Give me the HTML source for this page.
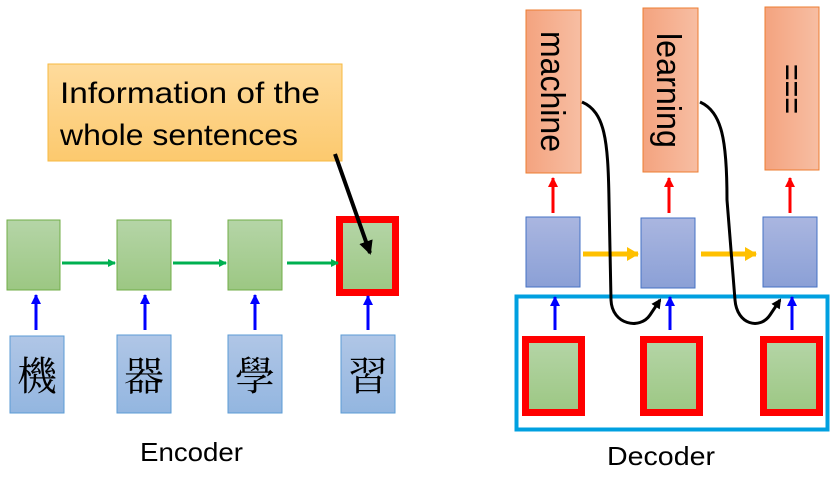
<!DOCTYPE html>
<html><head><meta charset="utf-8"><style>html,body{margin:0;padding:0;background:#fff}svg{display:block}</style></head>
<body>
<svg width="834" height="483" viewBox="0 0 834 483" xmlns="http://www.w3.org/2000/svg" font-family="Liberation Sans, sans-serif">
<defs>
<linearGradient id="g" x1="0" y1="0" x2="0" y2="1"><stop offset="0" stop-color="#b5d5a7"/><stop offset="1" stop-color="#9cc783"/></linearGradient>
<linearGradient id="b" x1="0" y1="0" x2="0" y2="1"><stop offset="0" stop-color="#b0c6e6"/><stop offset="1" stop-color="#93b6e0"/></linearGradient>
<linearGradient id="p" x1="0" y1="0" x2="0" y2="1"><stop offset="0" stop-color="#aab6e0"/><stop offset="1" stop-color="#8ba0d6"/></linearGradient>
<linearGradient id="o" x1="0" y1="0" x2="1" y2="0"><stop offset="0" stop-color="#f4a37f"/><stop offset="1" stop-color="#f7bea3"/></linearGradient>
<linearGradient id="y" x1="0" y1="0" x2="0" y2="1"><stop offset="0" stop-color="#fedb9c"/><stop offset="1" stop-color="#fcc96e"/></linearGradient>
<marker id="ag" markerWidth="8" markerHeight="8" refX="7" refY="4" orient="auto" markerUnits="userSpaceOnUse"><path d="M0,0 L8,4 L0,8z" fill="#00b050"/></marker>
<marker id="ab" markerWidth="10" markerHeight="10" refX="9" refY="5" orient="auto" markerUnits="userSpaceOnUse"><path d="M0,0 L10,5 L0,10z" fill="#0000ff"/></marker>
<marker id="ar" markerWidth="10" markerHeight="10" refX="9" refY="5" orient="auto" markerUnits="userSpaceOnUse"><path d="M0,0 L10,5 L0,10z" fill="#ff0000"/></marker>
<marker id="ay" markerWidth="12" markerHeight="14" refX="11" refY="7" orient="auto" markerUnits="userSpaceOnUse"><path d="M0,0 L12,7 L0,14z" fill="#ffc000"/></marker>
<marker id="ak" markerWidth="14" markerHeight="14" refX="12" refY="7" orient="auto" markerUnits="userSpaceOnUse"><path d="M0,0 L14,7 L0,14z" fill="#000"/></marker>
<marker id="ak2" markerWidth="10" markerHeight="10" refX="8" refY="5" orient="auto" markerUnits="userSpaceOnUse"><path d="M0,0 L10,5 L0,10z" fill="#000"/></marker>
</defs>
<!-- Encoder -->
<rect x="7" y="220" width="53" height="70" fill="url(#g)" stroke="#70ad47"/>
<rect x="117" y="220" width="54" height="70" fill="url(#g)" stroke="#70ad47"/>
<rect x="228" y="220" width="54" height="70" fill="url(#g)" stroke="#70ad47"/>
<rect x="339.5" y="219.5" width="56" height="73" fill="url(#g)" stroke="#ff0000" stroke-width="7"/>
<g stroke="#00b050" stroke-width="3" marker-end="url(#ag)">
<line x1="62" y1="263" x2="115" y2="263"/><line x1="173" y1="263" x2="226" y2="263"/><line x1="287" y1="263" x2="338" y2="263"/></g>
<g stroke="#0000ff" stroke-width="3" marker-end="url(#ab)">
<line x1="36" y1="330" x2="36" y2="295"/><line x1="145" y1="330" x2="145" y2="295"/><line x1="255" y1="330" x2="255" y2="295"/><line x1="368" y1="330" x2="368" y2="296"/></g>
<g fill="url(#b)" stroke="#5b9bd5">
<rect x="10" y="336" width="54" height="77"/><rect x="117" y="335" width="54" height="78"/><rect x="228" y="335" width="54" height="78"/><rect x="341" y="335" width="54" height="78"/></g>
<g font-family="Liberation Serif, Noto Serif CJK SC, serif" font-size="40" text-anchor="middle" fill="#000">
<text x="37" y="390">機</text><text x="144" y="390">器</text><text x="255" y="390">學</text><text x="368" y="390">習</text></g>
<rect x="48" y="64" width="294" height="97" fill="url(#y)" stroke="#f7b940"/>
<g font-size="30" fill="#000"><text x="60" y="103" textLength="260" lengthAdjust="spacingAndGlyphs">Information of the</text><text x="60" y="145" textLength="238" lengthAdjust="spacingAndGlyphs">whole sentences</text></g>
<line x1="335" y1="154" x2="370" y2="253" stroke="#000" stroke-width="4" marker-end="url(#ak)"/>
<text x="140" y="461" font-size="26" fill="#000" textLength="103" lengthAdjust="spacingAndGlyphs">Encoder</text>
<!-- Decoder -->
<g fill="url(#o)" stroke="#ed7d31">
<rect x="526" y="10" width="55" height="163"/><rect x="643" y="8" width="55" height="164"/><rect x="765" y="7" width="54" height="163"/></g>
<g font-size="34" fill="#000">
<text transform="translate(541,31) rotate(90)" textLength="121" lengthAdjust="spacingAndGlyphs">machine</text>
<text transform="translate(657,33) rotate(90)" textLength="115" lengthAdjust="spacingAndGlyphs">learning</text>
<text transform="translate(780,64) rotate(90)" textLength="50" lengthAdjust="spacingAndGlyphs">===</text></g>
<g stroke="#ff0000" stroke-width="3" marker-end="url(#ar)">
<line x1="553" y1="213" x2="553" y2="178"/><line x1="669" y1="213" x2="669" y2="178"/><line x1="790" y1="213" x2="790" y2="178"/></g>
<g fill="url(#p)" stroke="#4472c4">
<rect x="526" y="217" width="54" height="70"/><rect x="641" y="218" width="54" height="70"/><rect x="763" y="217" width="54" height="70"/></g>
<g stroke="#ffc000" stroke-width="5" marker-end="url(#ay)">
<line x1="583" y1="254" x2="638" y2="254"/><line x1="701" y1="254" x2="756" y2="254"/></g>
<rect x="516.5" y="296.5" width="311" height="133" fill="none" stroke="#00a0e0" stroke-width="4"/>
<g stroke="#0000ff" stroke-width="3" marker-end="url(#ab)">
<line x1="555" y1="330" x2="555" y2="297"/><line x1="670" y1="330" x2="670" y2="297"/><line x1="792" y1="330" x2="792" y2="297"/></g>
<g fill="url(#g)" stroke="#ff0000" stroke-width="7">
<rect x="525.5" y="339.5" width="56" height="73"/><rect x="643.5" y="339.5" width="56" height="73"/><rect x="763.5" y="339.5" width="56" height="73"/></g>
<g fill="none" stroke="#000" stroke-width="3" marker-end="url(#ak2)">
<path d="M582,102 C605,112 608,140 609,200 L611,300 C612,325 640,330 650,315 L660,300"/>
<path d="M700,102 C722,112 727,140 727,200 L735,300 C737,325 760,330 770,315 L780,300"/></g>
<text x="607" y="465" font-size="26" fill="#000" textLength="108" lengthAdjust="spacingAndGlyphs">Decoder</text>
</svg>
</body></html>
